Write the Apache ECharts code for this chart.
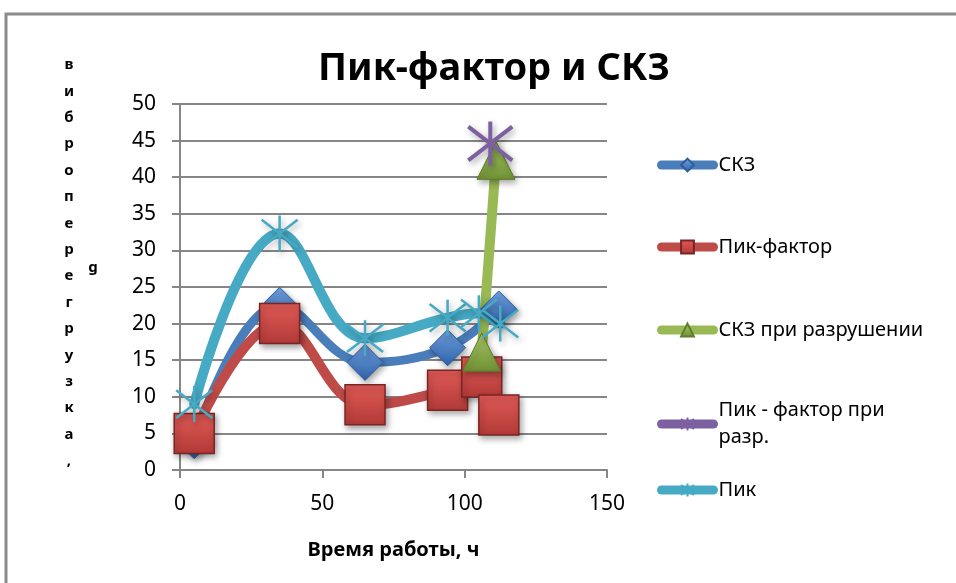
<!DOCTYPE html>
<html>
<head>
<meta charset="utf-8">
<script src="https://cdn.jsdelivr.net/npm/echarts@6/dist/echarts.min.js"></script>
<style>
  html, body { margin: 0; padding: 0; background: #fff; }
  #chart { width: 956px; height: 583px; }
</style>
</head>
<body>
<div id="chart"></div>
<script>
// Пик-фактор и СКЗ
const seriesNames = ['СКЗ', 'Пик-фактор', 'СКЗ при разрушении', 'Пик - фактор при разр.', 'Пик']

const skzHours = [5, 35, 65, 94, 112]
const skzValues = [4, 22.5, 14.7, 16.7, 22]

const pfHours = [5, 35, 65, 94, 106, 112]
const pfValues = [5, 20, 8.9, 10.9, 12.7, 7.5]

const skzBreakHours = [106, 111]
const skzBreakValues = [16.1, 42.3]

const pfBreakHours = [109]
const pfBreakValues = [44.6]

const peakHours = [5, 35, 65, 94, 105, 112.5]
const peakValues = [9, 32.3, 18, 20.8, 21.4, 20]

const xTicks = { min: 0, max: 150, step: 50 }
const yTicks = { min: 0, max: 50, step: 5 }

const yAxisLetters = 'виброперегрузка,'.split('')

const zip = (xs, ys) => xs.map((x, i) => [x, ys[i]])

const chart = echarts.init(document.getElementById('chart'))

const shadow = { shadowBlur: 6, shadowColor: 'rgba(0,0,0,0.35)', shadowOffsetX: 2, shadowOffsetY: 3 }
const grad = (top, bottom) => new echarts.graphic.LinearGradient(0, 0, 0, 1, [
  { offset: 0, color: top },
  { offset: 1, color: bottom }
])
const starPath = 'path://M0,0L20,20M20,0L0,20M10,-3L10,23'

// центры пунктов легенды (по картинке)
const legendCenters = [160, 242, 325, 419, 485]
const legendHeights = [22, 22, 22, 54, 22]

const option = {
  backgroundColor: '#fff',
  animation: false,
  title: {
    text: 'Пик-фактор и СКЗ',
    left: 489,
    textAlign: 'center',
    top: 45,
    textStyle: { fontFamily: 'Noto Sans', fontSize: 38, fontWeight: 'bold', color: '#000' }
  },
  legend: seriesNames.map((name, i) => ({
    data: [name],
    orient: 'vertical',
    left: 652,
    top: legendCenters[i] - legendHeights[i] / 2,
    itemWidth: 52,
    itemHeight: 16,
    selectedMode: false,
    lineStyle: { width: 9, cap: 'round' },
    formatter: n => n === 'Пик - фактор при разр.' ? 'Пик - фактор при\nразр.' : n,
    textStyle: { fontFamily: 'Noto Sans', fontSize: 20, color: '#000', lineHeight: i === 3 ? 27 : 22 }
  })),
  grid: { left: 180, right: 349, top: 104, bottom: 113, containLabel: false },
  xAxis: {
    type: 'value',
    min: xTicks.min,
    max: xTicks.max,
    interval: xTicks.step,
    name: 'Время работы, ч',
    nameLocation: 'middle',
    nameGap: 70,
    nameTextStyle: { fontFamily: 'Noto Sans', fontSize: 20, fontWeight: 'bold', color: '#000' },
    axisLine: { lineStyle: { color: '#868686', width: 2 } },
    axisTick: { show: true, length: 8, lineStyle: { color: '#868686', width: 2 } },
    axisLabel: { fontFamily: 'Noto Sans', fontSize: 21, color: '#000', margin: 24 },
    splitLine: { show: false }
  },
  yAxis: {
    type: 'value',
    min: yTicks.min,
    max: yTicks.max,
    interval: yTicks.step,
    axisLine: { show: true, lineStyle: { color: '#868686', width: 2 } },
    axisTick: { show: true, length: 8, lineStyle: { color: '#868686', width: 2 } },
    axisLabel: { fontFamily: 'Noto Sans', fontSize: 21, color: '#000', margin: 24 },
    splitLine: { lineStyle: { color: '#868686', width: 2 } }
  },
  graphic: [
    {
      type: 'polyline',
      shape: { points: [[6, 583], [6, 14], [956, 14]] },
      style: { stroke: '#8c8c8c', lineWidth: 3, fill: null },
      silent: true
    },
    ...yAxisLetters.map((ch, i) => ({
      type: 'text',
      x: 69,
      y: 65 + i * 26.4,
      style: {
        text: ch,
        fontFamily: 'Noto Sans',
        fontSize: 15,
        fontWeight: 'bold',
        fill: '#000',
        align: 'center',
        verticalAlign: 'middle'
      }
    })),
    {
      type: 'text',
      x: 93,
      y: 268,
      style: { text: 'g', fontFamily: 'Noto Sans', fontSize: 15, fontWeight: 'bold', fill: '#000', align: 'center', verticalAlign: 'middle' }
    }
  ],
  series: [
    {
      name: seriesNames[0],
      type: 'line',
      data: zip(skzHours, skzValues),
      smooth: 0.4,
      symbol: 'diamond',
      symbolSize: 36,
      lineStyle: { color: '#4a7ebb', width: 9, cap: 'round' },
      itemStyle: { color: grad('#6fa0e0', '#2f62a8'), borderColor: '#2f5d98', borderWidth: 1, ...shadow }
    },
    {
      name: seriesNames[1],
      type: 'line',
      data: zip(pfHours, pfValues),
      smooth: 0.4,
      symbol: 'rect',
      symbolSize: 40,
      lineStyle: { color: '#be4b48', width: 10, cap: 'round' },
      itemStyle: { color: grad('#e05a56', '#b23a37'), borderColor: '#7a2523', borderWidth: 1.5, ...shadow }
    },
    {
      name: seriesNames[2],
      type: 'line',
      data: zip(skzBreakHours, skzBreakValues),
      smooth: 0.4,
      symbol: 'triangle',
      symbolSize: 38,
      lineStyle: { color: '#98b954', width: 10, cap: 'round' },
      itemStyle: { color: grad('#a8c866', '#6f9034'), borderColor: '#5f7d2c', borderWidth: 1, ...shadow }
    },
    {
      name: seriesNames[3],
      type: 'line',
      data: zip(pfBreakHours, pfBreakValues),
      symbol: starPath,
      symbolSize: 44,
      lineStyle: { color: '#7d60a0', width: 10, cap: 'round' },
      itemStyle: { color: '#7d60a0', borderColor: '#7d60a0', borderWidth: 4, ...shadow }
    },
    {
      name: seriesNames[4],
      type: 'line',
      data: zip(peakHours, peakValues),
      smooth: 0.4,
      symbol: starPath,
      symbolSize: 36,
      lineStyle: { color: '#46aac5', width: 10, cap: 'round' },
      itemStyle: { color: 'rgba(0,0,0,0)', borderColor: '#46aac5', borderWidth: 2.5, ...shadow }
    }
  ]
}

chart.setOption(option)
</script>
</body>
</html>
